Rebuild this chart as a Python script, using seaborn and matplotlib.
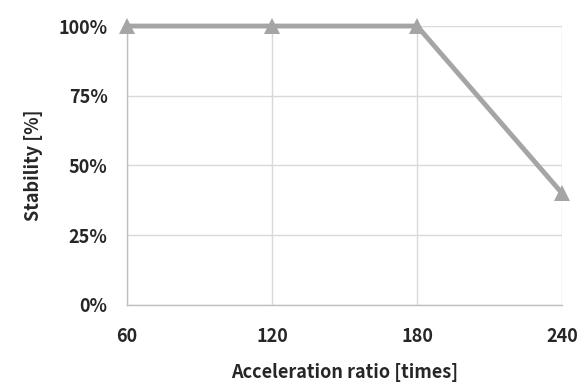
import pandas as pd
import seaborn as sns
from matplotlib import pyplot as plt
from matplotlib.ticker import FuncFormatter

# chart values
ratio = [60, 120, 180, 240]
stability = [100, 100, 100, 40]
y_ticks = [0, 25, 50, 75, 100]

df = pd.DataFrame({'ratio': ratio, 'stability': stability})

sns.set_style('white')
plt.rcParams['font.family'] = ['Noto Sans CJK JP', 'DejaVu Sans']

fig = plt.figure(figsize=(5.88, 3.83), dpi=100)
ax = fig.add_axes([0.216, 0.204, 0.740, 0.728])

sns.lineplot(data=df, x='ratio', y='stability', ax=ax, color='#a5a5a5',
             linewidth=3.5, marker='^', markersize=12, markeredgewidth=0,
             clip_on=False, zorder=3)

ax.set_xlim(60, 240)
ax.set_ylim(0, 100)
ax.set_xticks(ratio)
ax.set_yticks(y_ticks)
ax.yaxis.set_major_formatter(FuncFormatter(lambda v, p: f'{int(v)}%'))

ax.grid(True, color='#d9d9d9', linewidth=1)
for s in ['top', 'right']:
    ax.spines[s].set_visible(False)
for s in ['left', 'bottom']:
    ax.spines[s].set_color('#bfbfbf')
    ax.spines[s].set_linewidth(1)

ax.tick_params(axis='both', length=0, labelsize=13)
ax.tick_params(axis='x', pad=16)
ax.tick_params(axis='y', pad=14)
for lbl in ax.get_xticklabels() + ax.get_yticklabels():
    lbl.set_fontweight('bold')

ax.set_xlabel('Acceleration ratio [times]', fontsize=13, fontweight='bold', labelpad=12)
ax.set_ylabel('Stability [%]', fontsize=13, fontweight='bold', labelpad=11)

fig.savefig('out.png', dpi=100)
